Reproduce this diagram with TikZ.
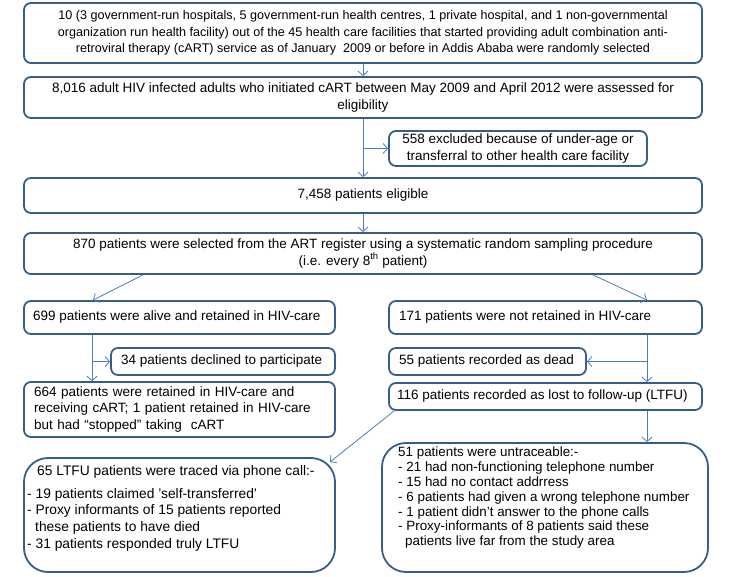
\documentclass[tikz,border=0pt]{standalone}
\usepackage{fontspec}
\setmainfont{Liberation Sans}
\usetikzlibrary{arrows.meta}
\definecolor{boxc}{HTML}{385D8A}
\definecolor{arrc}{HTML}{4A7EBB}
\begin{document}
\begin{tikzpicture}[x=1pt,y=-1pt,
  every node/.style={font=\fontsize{13.5}{16.2}\selectfont},
  box/.style={draw=boxc, line width=1.8pt, rounded corners=7pt, inner sep=0pt, align=center},
  lbox/.style={box, align=left, inner xsep=10pt, inner ysep=0pt},
  bigbox/.style={draw=boxc, line width=1.8pt, rounded corners=24pt, inner sep=0pt},
  txt/.style={inner sep=0pt, align=left, anchor=north west},
  conn/.style={draw=arrc, line width=0.8pt},
  arr/.style={conn, -{Straight Barb[length=4.5pt,width=10pt]}},
]
\useasboundingbox (0,0) rectangle (733,577);
\node[box, minimum width=678pt, minimum height=60pt, font=\fontsize{12.6}{16.5}\selectfont] (b1) at (363,33)
 {10 (3 government-run hospitals, 5 government-run health centres, 1 private hospital, and 1 non-governmental\\
  organization run health facility) out of the 45 health care facilities that started providing adult combination anti-\\
  retroviral therapy (cART) service as of January \ 2009 or before in Addis Ababa were randomly selected};
\node[box, minimum width=678pt, minimum height=41pt] (b2) at (363,97.5)
 {8,016 adult HIV infected adults who initiated cART between May 2009 and April 2012 were assessed for\\ eligibility};
\node[box, minimum width=258pt, minimum height=35pt] (ex) at (518,148.5)
 {558 excluded because of under-age or\\ transferral to other health care facility};
\node[box, minimum width=678pt, minimum height=35pt] (b3) at (363,195.5) {7,458 patients eligible};
\node[box, minimum width=678pt, minimum height=41pt] (b4) at (363,253.5)
 {870 patients were selected from the ART register using a systematic random sampling procedure\\ (i.e. every 8\textsuperscript{th} patient)};
\node[lbox, inner xsep=9pt, minimum height=33pt] (l1) at (179.5,317.5)
 {\makebox[293pt][l]{699 patients were alive and retained in HIV-care}};
\node[lbox, inner xsep=10pt, minimum height=33pt] (r1) at (545.5,317.5)
 {\makebox[293pt][l]{171 patients were not retained in HIV-care}};
\node[lbox, minimum height=27pt] (dec) at (223,361.5)
 {\makebox[204pt][l]{34 patients declined to participate}};
\node[lbox, minimum height=27pt] (dead) at (487.5,361.5)
 {\makebox[177pt][l]{55 patients recorded as dead}};
\node[lbox, inner xsep=10pt, text width=291pt, minimum height=55pt, font=\fontsize{13.5}{16.7}\selectfont] (l2) at (179.5,409.5)
 {664 patients were retained in HIV-care and\\ receiving cART; 1 patient retained in HIV-care\\ but had “stopped” taking \ cART};
\node[lbox, inner xsep=8pt, minimum height=27pt] (r2) at (545.5,396.5)
 {\makebox[297pt][l]{116 patients recorded as lost to follow-up (LTFU)}};
\node[bigbox, minimum width=311pt, minimum height=114pt] (l3) at (179.5,515) {};
\node[txt, font=\fontsize{13.8}{16.7}\selectfont] (l3t) at (27,465)
 {\hspace*{10pt}65 LTFU patients were traced via phone call:-\\[6.3pt]
  - 19 patients claimed 'self-transferred'\\
  - Proxy informants of 15 patients reported\\
  \hspace*{8pt}these patients to have died\\
  - 31 patients responded truly LTFU};
\node[bigbox, minimum width=326pt, minimum height=129pt] (r3) at (545,507.5) {};
\node[txt, font=\fontsize{13.4}{14.8}\selectfont] (r3t) at (398,447)
 {51 patients were untraceable:-\\
  - 21 had non-functioning telephone number\\
  - 15 had no contact addrress\\
  - 6 patients had given a wrong telephone number\\
  - 1 patient didn’t answer to the phone calls\\
  - Proxy-informants of 8 patients said these\\
  \hspace*{7pt}patients live far from the study area};
\coordinate (lx) at (92,0);
\coordinate (rx) at (647,0);
\coordinate (l3in) at (330,462);
\draw[arr] (b1.south) -- (b2.north);
\draw[arr] (b2.south) -- (b3.north);
\draw[arr] (b2.south |- ex.west) -- (ex.west);
\draw[arr] (b3.south) -- (b4.north);
\draw[arr] ([xshift=-220pt]b4.south) -- ([xshift=-86.5pt]l1.north);
\draw[arr] ([xshift=230pt]b4.south) -- ([xshift=101.5pt]r1.north);
\draw[arr] (l1.south -| lx) -- (l2.north -| lx);
\draw[arr] (dec.west -| lx) -- (dec.west);
\draw[arr] (r1.south -| rx) -- (r2.north -| rx);
\draw[arr] (dead.east -| rx) -- (dead.east);
\draw[arr] (r2.south -| rx) -- (r3.north -| rx);
\draw[arr] ([xshift=6pt]r2.south west) -- (l3in);
\end{tikzpicture}
\end{document}
